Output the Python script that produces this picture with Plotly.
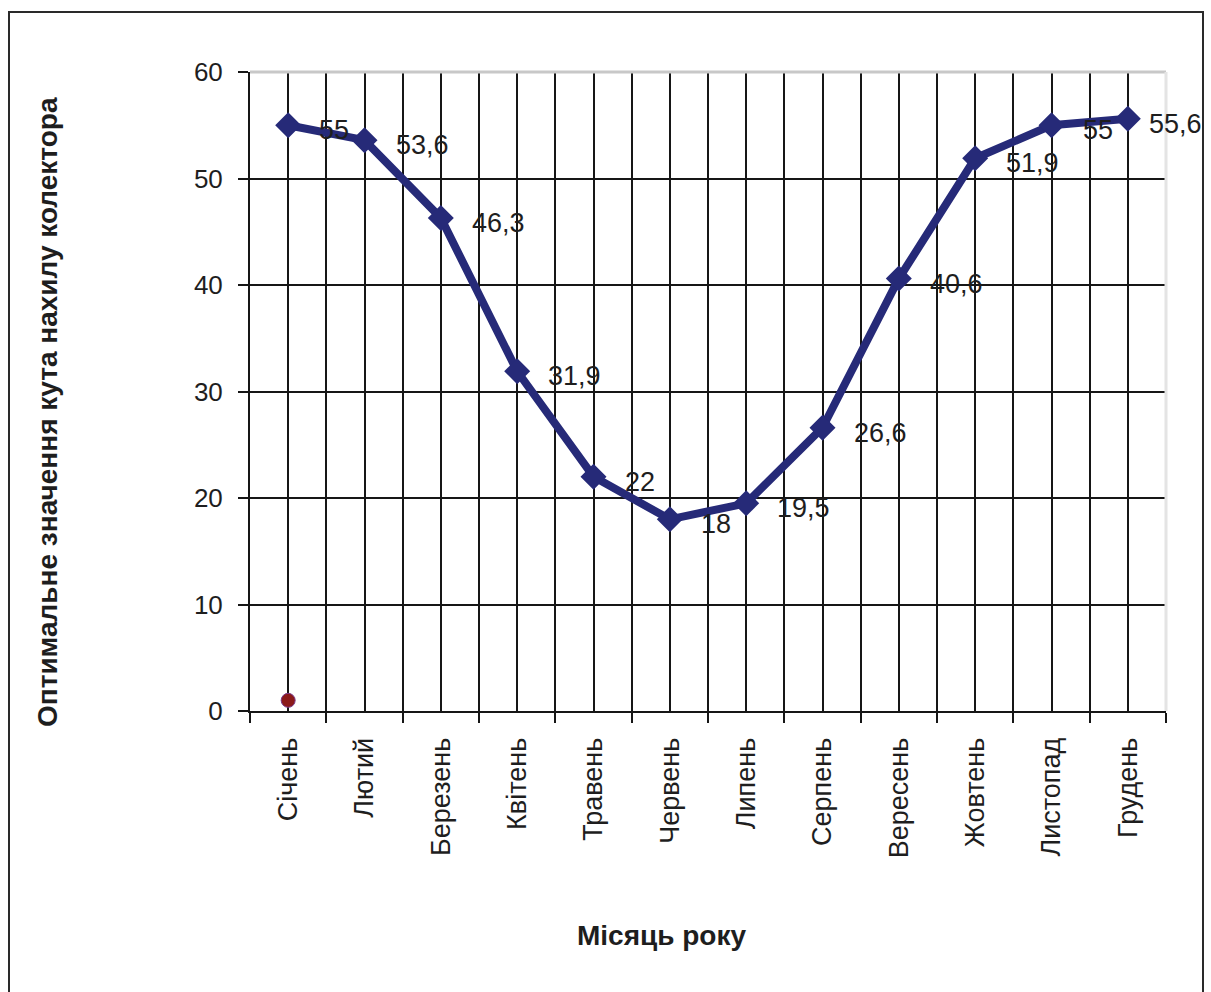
import plotly.graph_objects as go

# Month names (x categories) and the optimal collector tilt angle for each month
months = ["Січень", "Лютий", "Березень", "Квітень", "Травень", "Червень",
          "Липень", "Серпень", "Вересень", "Жовтень", "Листопад", "Грудень"]
tilt_angle = [55, 53.6, 46.3, 31.9, 22, 18, 19.5, 26.6, 40.6, 51.9, 55, 55.6]

# Auxiliary series with a single point in the first month
aux_values = [1]

y_tick_values = [0, 10, 20, 30, 40, 50, 60]

W, H = 1211, 992
L, R, T, B = 250, 45, 72, 281
PW, PH = W - L - R, H - T - B

def px_x(px):
    return (px - L) / PW

def px_y(py):
    return (H - B - py) / PH

def fmt(v):
    s = f"{v:g}"
    return s.replace(".", ",")

idx = list(range(len(months)))
FONT = "Arial, Liberation Sans, sans-serif"
GRID = "#161616"
NAVY = "#262a78"
TEXT = "#1e1e1e"

fig = go.Figure()

fig.add_trace(go.Scatter(
    x=idx, y=tilt_angle, mode="lines+markers",
    line=dict(color=NAVY, width=8),
    marker=dict(symbol="diamond", size=20, color=NAVY),
    hoverinfo="skip", showlegend=False,
))

fig.add_trace(go.Scatter(
    x=idx[:len(aux_values)], y=aux_values, mode="markers",
    marker=dict(symbol="circle", size=14, color="#8b1a1a",
                line=dict(color="#7a3a8a", width=1)),
    hoverinfo="skip", showlegend=False,
))

# value labels to the right of each point
for i, v in zip(idx, tilt_angle):
    last = i == idx[-1]
    fig.add_annotation(
        x=i, y=v, text=fmt(v), showarrow=False,
        xanchor="left", yanchor="middle",
        xshift=19 if last else 29, yshift=-5,
        font=dict(family=FONT, size=27, color=TEXT),
    )

fig.update_layout(
    width=W, height=H,
    margin=dict(l=L, r=R, t=T, b=B),
    paper_bgcolor="white", plot_bgcolor="white",
    xaxis=dict(
        range=[-0.5, len(months) - 0.5],
        tickvals=idx, ticktext=months, tickangle=-90,
        ticks="", ticklabelstandoff=14,
        tickfont=dict(family=FONT, size=27, color=TEXT),
        showgrid=True, gridcolor=GRID, gridwidth=2,
        minor=dict(tickvals=[i - 0.5 for i in range(len(months) + 1)],
                   ticks="outside", ticklen=10, tickwidth=2, tickcolor=GRID,
                   showgrid=True, gridcolor=GRID, gridwidth=2),
        showline=True, linecolor=GRID, linewidth=2,
        zeroline=False, fixedrange=True,
    ),
    yaxis=dict(
        range=[0, 60], tickvals=y_tick_values,
        ticks="outside", ticklen=10, tickwidth=2, tickcolor=GRID,
        ticklabelstandoff=10,
        tickfont=dict(family=FONT, size=26, color=TEXT),
        showgrid=True, gridcolor=GRID, gridwidth=2,
        showline=True, linecolor=GRID, linewidth=2,
        zeroline=False, fixedrange=True,
    ),
)

# light plot-area border along top and right edges
fig.add_shape(type="line", xref="paper", yref="paper", x0=0, x1=1, y0=1, y1=1,
              line=dict(color="#c8c8c8", width=3), layer="above")
fig.add_shape(type="line", xref="paper", yref="paper", x0=1, x1=1, y0=0, y1=1,
              line=dict(color="#e4e4e4", width=3), layer="above")

# outer chart frame
fig.add_shape(type="rect", xref="paper", yref="paper",
              x0=px_x(9), x1=px_x(1203), y0=px_y(1010), y1=px_y(12),
              line=dict(color="#2a2a2a", width=2), layer="below")

# axis titles
fig.add_annotation(
    xref="paper", yref="paper", x=px_x(47), y=px_y(412),
    text="<b>Оптимальне значення кута нахилу колектора</b>", textangle=-90,
    showarrow=False, xanchor="center", yanchor="middle",
    font=dict(family=FONT, size=28, color=TEXT),
)
fig.add_annotation(
    xref="paper", yref="paper", x=px_x(661), y=px_y(935),
    text="<b>Місяць року</b>",
    showarrow=False, xanchor="center", yanchor="middle",
    font=dict(family=FONT, size=28, color=TEXT),
)

fig.write_html("out.html", config=dict(displayModeBar=False))
